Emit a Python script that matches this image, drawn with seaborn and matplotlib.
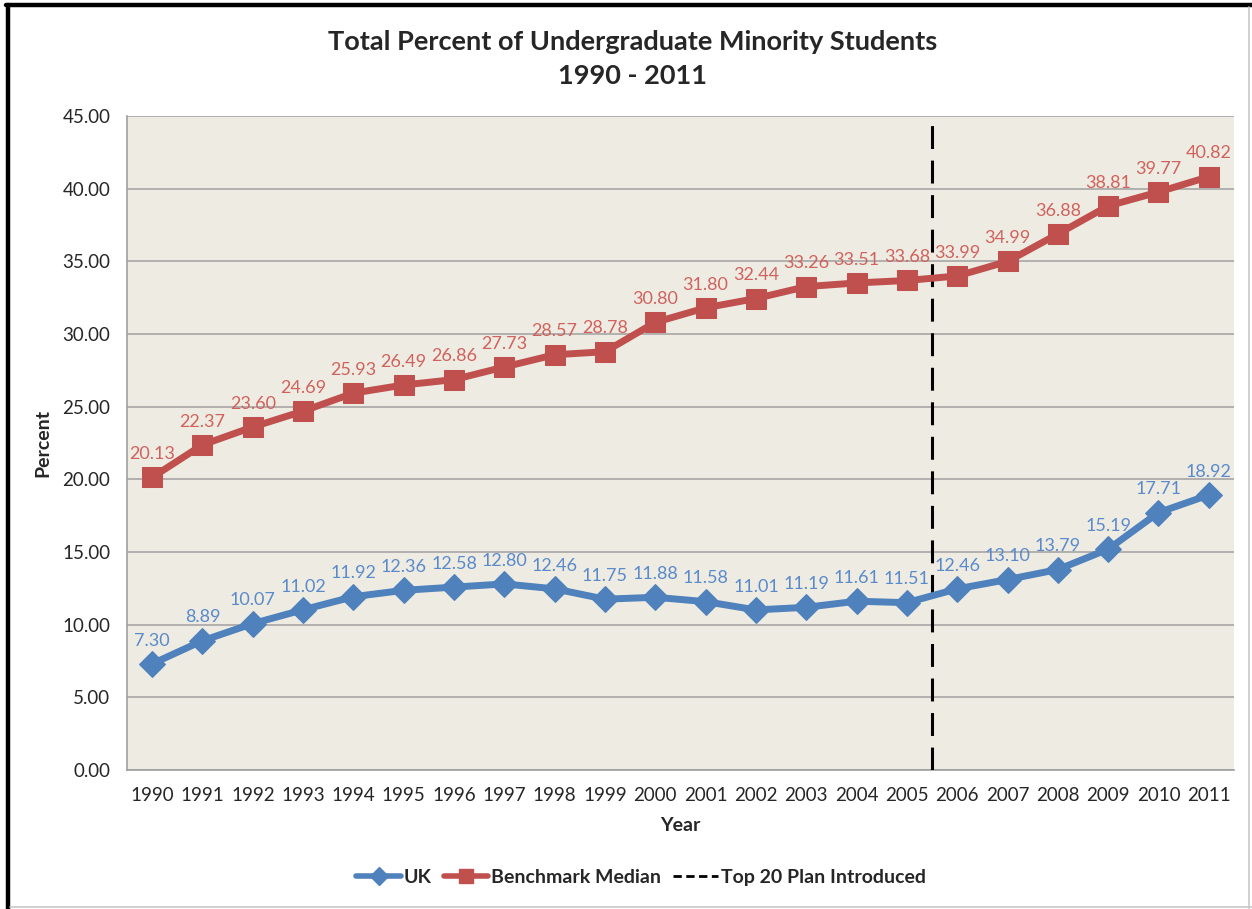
import numpy as np
import pandas as pd
import matplotlib
matplotlib.use("Agg")
import matplotlib.pyplot as plt
from matplotlib.lines import Line2D
import seaborn as sns

years = [str(y) for y in range(1990, 2012)]
uk = [7.30, 8.89, 10.07, 11.02, 11.92, 12.36, 12.58, 12.80, 12.46, 11.75, 11.88,
      11.58, 11.01, 11.19, 11.61, 11.51, 12.46, 13.10, 13.79, 15.19, 17.71, 18.92]
benchmark = [20.13, 22.37, 23.60, 24.69, 25.93, 26.49, 26.86, 27.73, 28.57, 28.78, 30.80,
             31.80, 32.44, 33.26, 33.51, 33.68, 33.99, 34.99, 36.88, 38.81, 39.77, 40.82]
plan_year_index = 15.5  # between 2005 and 2006
y_ticks = np.arange(0, 45.01, 5)

blue, blue_lbl = "#4F81BD", "#5A8ACB"
red, red_lbl = "#C0504D", "#D0625E"

sns.set_style("white")
plt.rcParams["font.family"] = ["Lato", "DejaVu Sans"]

df = pd.DataFrame({"pos": np.arange(len(years)), "UK": uk, "Benchmark Median": benchmark})

fig = plt.figure(figsize=(12.52, 9.09), dpi=100)
ax = fig.add_axes([0.1014, 0.153, 0.8842, 0.7194])
ax.set_facecolor("#EEECE2")

sns.lineplot(data=df, x="pos", y="UK", ax=ax, color=blue, lw=5, marker="D",
             markersize=13, markeredgecolor=blue, zorder=4)
sns.lineplot(data=df, x="pos", y="Benchmark Median", ax=ax, color=red, lw=5, marker="s",
             markersize=15, markeredgecolor=red, zorder=4)

for i, (u, b) in enumerate(zip(uk, benchmark)):
    ax.annotate(f"{u:.2f}", (i, u), xytext=(0, 11), textcoords="offset points",
                ha="center", va="bottom", fontsize=13, color=blue_lbl, zorder=5)
    ax.annotate(f"{b:.2f}", (i, b), xytext=(0, 11), textcoords="offset points",
                ha="center", va="bottom", fontsize=13, color=red_lbl, zorder=5)

ax.plot([plan_year_index, plan_year_index], [0, 44.6], color="black", lw=2.2,
        ls=(0, (7.5, 3.8)), zorder=3)

ax.set_xlim(-0.5, len(years) - 0.5)
ax.set_ylim(0, 45)
ax.set_yticks(y_ticks)
ax.set_yticklabels([f"{v:.2f}" for v in y_ticks], fontsize=13.5)
ax.set_xticks(np.arange(len(years)))
ax.set_xticklabels(years, fontsize=13.5)
ax.set_xticks(np.arange(-0.5, len(years)), minor=True)
ax.tick_params(axis="x", which="major", length=0, pad=12)
ax.tick_params(axis="x", which="minor", length=6, color="#A0A0A0", width=1)
ax.tick_params(axis="y", length=6, color="#A0A0A0", width=1, pad=6)
ax.grid(axis="y", color="#A6A6A6", lw=1.2)
ax.set_axisbelow(True)
for s in ["top", "right"]:
    ax.spines[s].set_visible(False)
for s in ["left", "bottom"]:
    ax.spines[s].set_color("#A0A0A0")
    ax.spines[s].set_linewidth(1.2)

ax.set_xlabel("Year", fontsize=14, fontweight="bold", labelpad=10)
ax.set_ylabel("Percent", fontsize=14, fontweight="bold", labelpad=8)

fig.text(0.505, 0.935, "Total Percent of Undergraduate Minority Students\n1990 - 2011",
         ha="center", va="center", fontsize=19.5, fontweight="bold", linespacing=1.5)

handles = [
    Line2D([], [], color=blue, lw=4, marker="D", markersize=9, markeredgecolor=blue),
    Line2D([], [], color=red, lw=4, marker="s", markersize=10, markeredgecolor=red),
    Line2D([], [], color="black", lw=2, ls=(0, (3, 1.6))),
]
fig.legend(handles, ["UK", "Benchmark Median", "Top 20 Plan Introduced"],
           loc="center", bbox_to_anchor=(0.512, 0.035), ncol=3, frameon=False,
           prop={"weight": "bold", "size": 14}, handlelength=2.3, handletextpad=0.15,
           columnspacing=0.6)

# outer frame: heavy black top/left, thin grey right/bottom
fig.add_artist(Line2D([0.0065, 0.0065], [0, 0.9945], color="black", lw=3.2))
fig.add_artist(Line2D([0.005, 1], [0.9945, 0.9945], color="black", lw=3.2))
fig.add_artist(Line2D([0.9975, 0.9975], [0, 0.992], color="#C8C8C8", lw=1.2))
fig.add_artist(Line2D([0.008, 1], [0.002, 0.002], color="#C8C8C8", lw=1.2))

fig.savefig("out.png", dpi=100, facecolor="white")
